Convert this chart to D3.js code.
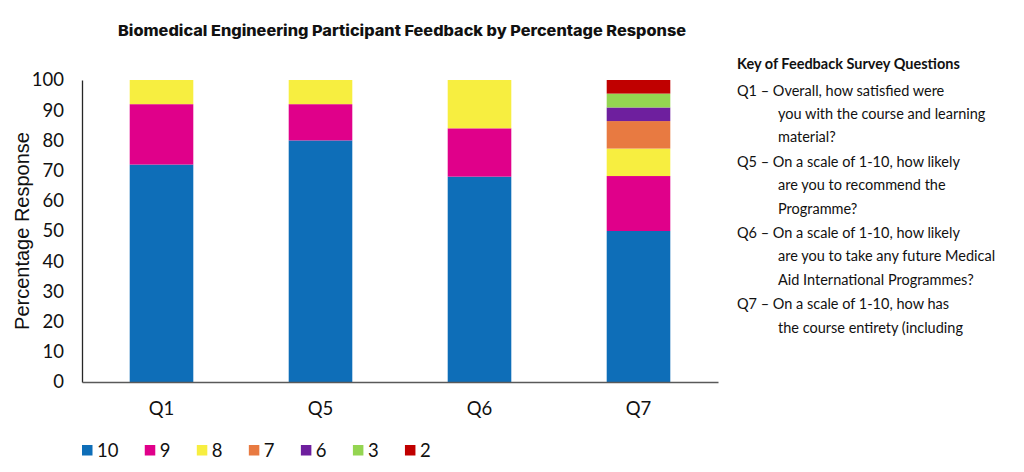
<!DOCTYPE html>
<html>
<head>
<meta charset="utf-8">
<script src="https://cdn.jsdelivr.net/npm/d3@7"></script>
<style>
  body { margin: 0; background: #fff; }
  svg { display: block; }
</style>
</head>
<body>
<div id="chart"></div>
<script>
// data
const questions = ['Q1', 'Q5', 'Q6', 'Q7']
const scores = ['10', '9', '8', '7', '6', '3', '2']
const score10 = [72, 80, 68, 50]
const score9 = [20, 12, 16, 18.2]
const score8 = [8, 8, 16, 9.1]
const score7 = [0, 0, 0, 9.1]
const score6 = [0, 0, 0, 4.5]
const score3 = [0, 0, 0, 4.6]
const score2 = [0, 0, 0, 4.5]
const yTicks = [0, 10, 20, 30, 40, 50, 60, 70, 80, 90, 100]
const colors = ['#0e6eb8', '#e0008a', '#f7ee40', '#e87a41', '#6e1f9e', '#94d551', '#c00000']

const keyTitle = 'Key of Feedback Survey Questions'
const keyItems = [
  ['Q1 \u2013 Overall, how satisfied were', 'you with the course and learning', 'material?'],
  ['Q5 \u2013 On a scale of 1-10, how likely', 'are you to recommend the', 'Programme?'],
  ['Q6 \u2013 On a scale of 1-10, how likely', 'are you to take any future Medical', 'Aid International Programmes?'],
  ['Q7 \u2013 On a scale of 1-10, how has', 'the course entirety (including']
]

const seriesValues = [score10, score9, score8, score7, score6, score3, score2]
const table = questions.map((q, i) => {
  const row = { question: q }
  scores.forEach((s, j) => row[s] = seriesValues[j][i])
  return row
})

const dimensions = {
  width: 1024,
  height: 472,
  margin: { top: 80, bottom: 90, left: 82, right: 306 }
}
dimensions.ctrWidth = dimensions.width - dimensions.margin.left - dimensions.margin.right
dimensions.ctrHeight = dimensions.height - dimensions.margin.top - dimensions.margin.bottom

const svg = d3.select('#chart')
  .append('svg')
  .attr('width', dimensions.width)
  .attr('height', dimensions.height)

const ctr = svg.append('g')
  .attr('transform', `translate(${dimensions.margin.left}, ${dimensions.margin.top})`)

const xScale = d3.scaleBand()
  .domain(questions)
  .range([0, dimensions.ctrWidth])
  .paddingInner(0.6)
  .paddingOuter(0.3)

const yScale = d3.scaleLinear()
  .domain([0, 100])
  .range([dimensions.ctrHeight, 0])

const color = d3.scaleOrdinal().domain(scores).range(colors)

const stacked = d3.stack().keys(scores)(table)

ctr.selectAll('g.layer')
  .data(stacked)
  .join('g')
  .attr('class', 'layer')
  .attr('fill', d => color(d.key))
  .selectAll('rect')
  .data(d => d)
  .join('rect')
  .attr('x', d => xScale(d.data.question))
  .attr('y', d => yScale(d[1]))
  .attr('width', xScale.bandwidth())
  .attr('height', d => yScale(d[0]) - yScale(d[1]))

// y axis
const yAxis = d3.axisLeft(yScale)
  .tickValues(yTicks)
  .tickSize(0)
  .tickPadding(18)

const yAxisGroup = ctr.append('g').call(yAxis)
yAxisGroup.select('.domain').attr('stroke', '#262626').attr('stroke-width', 1.3)
yAxisGroup.selectAll('text')
  .style('font-family', 'Lato, sans-serif')
  .style('font-size', '18.5px')
  .attr('fill', '#111')

// x axis
const xAxis = d3.axisBottom(xScale)
  .tickSize(0)
  .tickPadding(20)

const xAxisGroup = ctr.append('g')
  .attr('transform', `translate(0, ${dimensions.ctrHeight})`)
  .call(xAxis)
xAxisGroup.select('.domain').attr('stroke', '#595959').attr('stroke-width', 1.3)
xAxisGroup.selectAll('text')
  .style('font-family', 'Lato, sans-serif')
  .style('font-size', '18.5px')
  .attr('fill', '#111')

// y label
const textX = 22
const textY = dimensions.margin.top + dimensions.ctrHeight / 2
svg.append('text')
  .attr('x', textX)
  .attr('y', textY)
  .attr('text-anchor', 'middle')
  .attr('dominant-baseline', 'central')
  .attr('transform', `rotate(270, ${textX}, ${textY})`)
  .style('font-family', '"Liberation Sans", Arial, sans-serif')
  .style('font-size', '20px')
  .attr('fill', '#111')
  .text('Percentage Response')

// title
svg.append('text')
  .attr('x', 402)
  .attr('y', 36)
  .attr('text-anchor', 'middle')
  .attr('textLength', 568)
  .attr('lengthAdjust', 'spacingAndGlyphs')
  .style('font-family', 'Inter, sans-serif')
  .style('font-weight', 800)
  .style('font-size', '15px')
  .attr('fill', '#111')
  .text('Biomedical Engineering Participant Feedback by Percentage Response')

// key of questions
const key = svg.append('g').attr('transform', 'translate(737, 0)')
key.append('text')
  .attr('x', 0)
  .attr('y', 69)
  .style('font-family', 'Lato, sans-serif')
  .style('font-weight', 700)
  .style('font-size', '14.5px')
  .attr('fill', '#111')
  .text(keyTitle)

let lineY = 96
keyItems.forEach(lines => {
  lines.forEach((line, i) => {
    key.append('text')
      .attr('x', i === 0 ? 0 : 41)
      .attr('y', lineY)
      .style('font-family', 'Lato, sans-serif')
      .style('font-size', '14.5px')
      .attr('fill', '#111')
      .text(line)
    lineY += 23.2
  })
  lineY += 1.5
})

// legend
const legend = svg.append('g').attr('transform', 'translate(82, 445)')
let lx = 0
scores.forEach((s, i) => {
  const item = legend.append('g').attr('transform', `translate(${lx}, 0)`)
  item.append('rect')
    .attr('width', 10.5)
    .attr('height', 10.5)
    .attr('fill', colors[i])
  const t = item.append('text')
    .attr('x', 15)
    .attr('y', 11.5)
    .style('font-family', 'Lato, sans-serif')
    .style('font-size', '18.5px')
    .attr('fill', '#111')
    .text(s)
  lx += 15 + t.node().getComputedTextLength() + 26.3
})
</script>
</body>
</html>
